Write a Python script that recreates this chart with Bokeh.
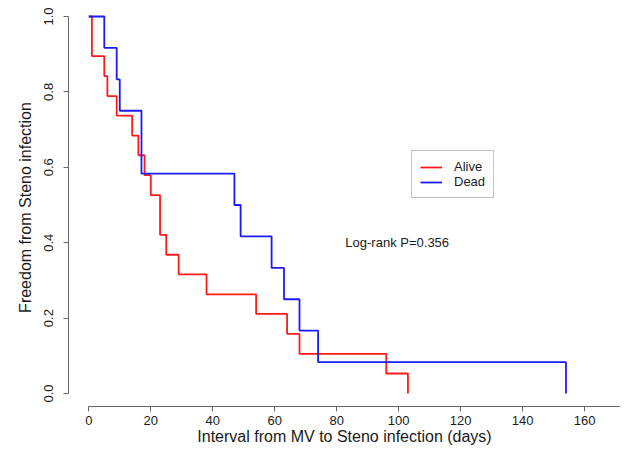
from bokeh.plotting import figure
from bokeh.models import (Range1d, FixedTicker, NumeralTickFormatter, Legend, LegendItem, Label)
from bokeh.embed import file_html
from bokeh.resources import INLINE

# ---- data ----
alive_days = [0, 1, 5, 6, 9, 14, 16, 18, 20, 23, 25, 29, 38, 54, 64, 68, 96, 103]
alive_surv = [1.0, 0.895, 0.842, 0.789, 0.737, 0.684, 0.632, 0.579, 0.526, 0.421,
              0.368, 0.316, 0.263, 0.211, 0.158, 0.105, 0.053, 0.0]
dead_days = [0, 5, 9, 10, 17, 47, 49, 59, 63, 68, 74, 154]
dead_surv = [1.0, 0.917, 0.833, 0.75, 0.583, 0.5, 0.417, 0.333, 0.25, 0.167, 0.083, 0.0]
x_ticks = [0, 20, 40, 60, 80, 100, 120, 140, 160]
y_ticks = [0.0, 0.2, 0.4, 0.6, 0.8, 1.0]
group_names = ["Alive", "Dead"]
p_text = "Log-rank P=0.356"

FONT = "Liberation Sans"

p = figure(width=620, height=449, output_backend="svg", toolbar_location=None,
           x_range=Range1d(-6.55, 171.6), y_range=Range1d(-0.0345, 1.0212),
           min_border_left=68, min_border_bottom=43, min_border_top=8, min_border_right=0)
p.outline_line_color = None
p.background_fill_color = "white"
p.border_fill_color = "white"
p.xgrid.visible = False
p.ygrid.visible = False

r_alive = p.step(alive_days, alive_surv, mode="after", line_color="#ff1a1a", line_width=1.8)
r_dead = p.step(dead_days, dead_surv, mode="after", line_color="#1a1aff", line_width=1.8)

for ax in (p.xaxis[0], p.yaxis[0]):
    ax.axis_line_color = "#666666"
    ax.major_tick_line_color = "#666666"
    ax.major_tick_out = 5
    ax.major_tick_in = 0
    ax.minor_tick_line_color = None
    ax.major_label_text_font = FONT
    ax.major_label_text_font_size = "13px"
    ax.major_label_text_color = "#1a1a1a"
    ax.axis_label_text_font = FONT
    ax.axis_label_text_font_size = "16px"
    ax.axis_label_text_font_style = "normal"
    ax.axis_label_text_color = "#1a1a1a"

xa = p.xaxis[0]
xa.ticker = FixedTicker(ticks=x_ticks)
xa.bounds = (0, 171.6)
xa.major_label_standoff = 4
xa.axis_label = "Interval from MV to Steno infection (days)"
xa.axis_label_standoff = 0

ya = p.yaxis[0]
ya.ticker = FixedTicker(ticks=y_ticks)
ya.formatter = NumeralTickFormatter(format="0.0")
ya.bounds = (0, 1)
ya.major_label_orientation = "vertical"
ya.major_label_standoff = 10
ya.axis_label = "Freedom from Steno infection"
ya.axis_label_standoff = 8

legend = Legend(items=[LegendItem(label=group_names[0], renderers=[r_alive]),
                       LegendItem(label=group_names[1], renderers=[r_dead])],
                location=(343, 208))
legend.border_line_color = "#888888"
legend.border_line_width = 1
legend.background_fill_color = "white"
legend.background_fill_alpha = 1.0
legend.padding = 8
legend.spacing = 0
legend.margin = 0
legend.glyph_width = 22
legend.glyph_height = 14
legend.label_height = 14
legend.label_standoff = 12
legend.label_text_font = FONT
legend.label_text_font_size = "13px"
legend.label_text_color = "#1a1a1a"
p.add_layout(legend, "center")

lab = Label(x=82.8, y=0.40, text=p_text, text_font=FONT, text_font_size="13px",
            text_color="#1a1a1a", text_baseline="middle", text_align="left")
p.add_layout(lab)

open("out.html", "w").write(file_html(p, INLINE))
